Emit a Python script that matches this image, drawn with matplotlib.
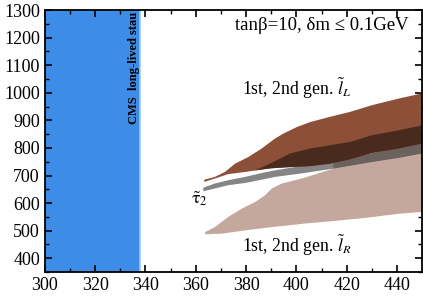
import numpy as np
import matplotlib
matplotlib.use("Agg")
import matplotlib.pyplot as plt

plt.rcParams["font.family"] = ["Liberation Serif", "DejaVu Serif"]
plt.rcParams["mathtext.fontset"] = "stix"

# CMS long-lived stau exclusion (x range)
cms_x = [300, 338]

# 1st, 2nd gen. slepton L: outer band
lL_x_upper = [363.4, 367.6, 371.6, 375.6, 380.9, 386.2, 391.5, 394.8, 400.2, 405.5, 413.4, 421.4, 430.0, 440.6, 450.0]
lL_y_upper = [685, 695, 713, 743, 767, 798, 834, 852, 876, 894, 913, 931, 955, 979, 998]
lL_x_lower = [363.4, 367.6, 372.8, 379.6, 386.2, 391.5, 405.5, 413.4, 421.4, 430.0, 440.6, 450.0]
lL_y_lower = [677, 689, 705, 713, 722, 728, 734, 743, 759, 782, 798, 816]

# darker inner part of the slepton L band (top edge)
lLd_x_top = [383.6, 389.5, 397.5, 405.5, 413.4, 421.4, 430.0, 440.6, 450.0]
lLd_y_top = [719, 743, 780, 798, 810, 822, 846, 864, 882]

# stau 2 band
st_x = [363.0, 367.6, 372.9, 379.6, 386.2, 391.5, 401.5, 414.7, 428.0, 441.3, 450.0]
st_y_top = [656, 671, 683, 695, 709, 719, 734, 752, 777, 803, 824]
st_y_bot = [643, 653, 665, 673, 685, 695, 707, 725, 746, 765, 780]

# 1st, 2nd gen. slepton R
lR_x_top = [363.7, 367.6, 372.9, 378.3, 383.6, 387.5, 390.2, 394.2, 399.5, 403.5, 414.7, 428.0, 441.3, 450.0]
lR_y_top = [495, 513, 550, 580, 604, 628, 653, 671, 683, 693, 725, 746, 765, 780]
lR_x_bot = [363.7, 370.3, 379.6, 390.2, 403.5, 414.7, 428.0, 441.3, 450.0]
lR_y_bot = [487, 489, 501, 513, 526, 535, 547, 562, 568]

x_ticks = [300, 320, 340, 360, 380, 400, 420, 440]
y_ticks = [400, 500, 600, 700, 800, 900, 1000, 1100, 1200, 1300]


def band(x_top, y_top, x_bot, y_bot):
    xs = list(x_top) + list(x_bot)[::-1]
    ys = list(y_top) + list(y_bot)[::-1]
    return xs, ys


fig = plt.figure(figsize=(4.23, 2.97), dpi=100)
ax = fig.add_axes([0.106, 0.084, 0.892, 0.882])

ax.axvspan(cms_x[0], cms_x[1], color="#3d8de8", lw=0, zorder=1)
ax.axvline(cms_x[1], color="#9cc6f2", lw=1.2, zorder=1)
ax.text(335.3, 1292, "CMS  long-lived stau", rotation=90, ha="center", va="top",
        fontsize=9, fontweight="bold", zorder=5)

xs, ys = band(lR_x_top, lR_y_top, lR_x_bot, lR_y_bot)
ax.fill(xs, ys, color="#c4a89e", lw=0, zorder=2)

xs, ys = band(st_x, st_y_top, st_x, st_y_bot)
ax.fill(xs, ys, color="#858585", lw=0, zorder=3)
# right part of the stau band looks darker where it overlaps
sx = np.array(st_x)
m = sx >= 410
xs, ys = band(sx[m], np.array(st_y_top)[m], sx[m], np.array(st_y_bot)[m])
ax.fill(xs, ys, color="#6b625d", lw=0, zorder=3)

xs, ys = band(lL_x_upper, lL_y_upper, lL_x_lower, lL_y_lower)
ax.fill(xs, ys, color="#8c5038", lw=0, zorder=4)
lo = np.interp(lLd_x_top, lL_x_lower, lL_y_lower)
xs, ys = band(lLd_x_top, lLd_y_top, lLd_x_top, lo)
ax.fill(xs, ys, color="#4b2a1e", lw=0, zorder=4)

ax.text(444.5, 1245, "tanβ=10, δm ≤ 0.1GeV", ha="right", va="center", fontsize=13.5)
ax.text(378.5, 1015, r"1st, 2nd gen. $\tilde{l}_L$", ha="left", va="center", fontsize=12.8)
ax.text(378.5, 447, r"1st, 2nd gen. $\tilde{l}_R$", ha="left", va="center", fontsize=12.8)
ax.text(361.5, 617, r"$\tilde{\mathrm{\tau}}_\mathrm{2}$", ha="center", va="center", fontsize=12.8)

ax.set_xlim(300, 450)
ax.set_ylim(350, 1300)
ax.set_xticks(x_ticks)
ax.set_yticks(y_ticks)
ax.set_xticks(np.arange(310, 450, 20), minor=True)
ax.set_yticks(np.arange(350, 1300, 100), minor=True)
ax.tick_params(which="both", direction="in", top=True, right=True, labelsize=13)
ax.tick_params(which="major", length=5, width=1.2)
ax.tick_params(which="minor", length=3, width=1.0)
for s in ax.spines.values():
    s.set_linewidth(1.3)
    s.set_zorder(6)

fig.savefig("out.png", dpi=100)
